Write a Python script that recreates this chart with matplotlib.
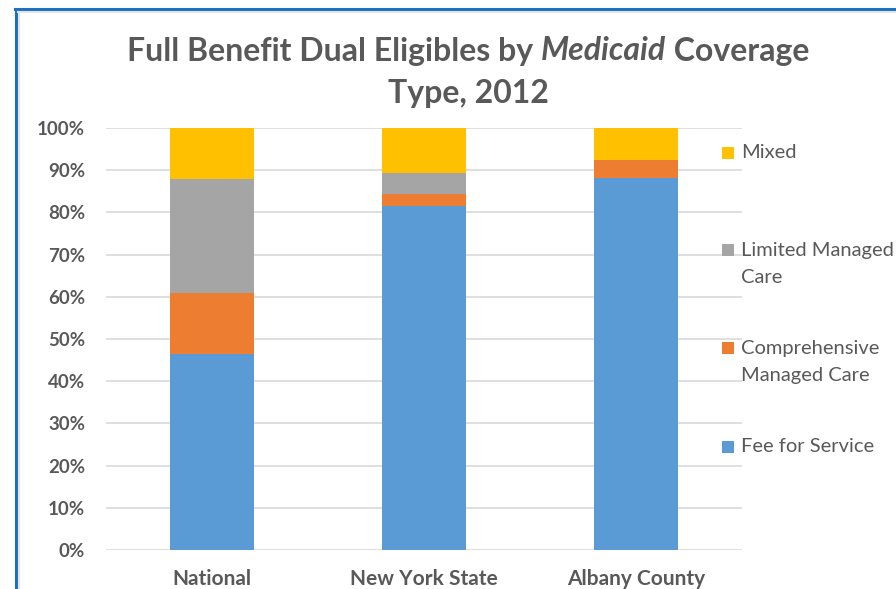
import matplotlib
matplotlib.use('Agg')
import matplotlib.pyplot as plt
import matplotlib.patches
import numpy as np


categories = ['National', 'New York State', 'Albany County']

fee_for_service = [46.4, 81.5, 88.2]
comprehensive_mc = [14.5, 2.9, 4.3]
limited_mc = [26.9, 4.9, 0.0]
mixed = [12.2, 10.7, 7.5]

series_names = ['Fee for Service', 'Comprehensive\nManaged Care',
                'Limited Managed\nCare', 'Mixed']
series_colors = ['#5B9BD5', '#ED7D31', '#A5A5A5', '#FFC000']

y_ticks = list(range(0, 101, 10))
tick_labels = ['%d%%' % t for t in y_ticks]

TEXT = '#595959'
FONT = 'Lato'


def main():

    W, H = 896, 589
    fig = plt.figure(figsize=(W / 100, H / 100), dpi=100)
    fig.patch.set_facecolor('white')

    # plot area in pixel coordinates
    left, right, top, bottom = 106, 742, 128, 550
    ax = fig.add_axes([left / W, 1 - bottom / H, (right - left) / W, (bottom - top) / H])

    x = np.arange(len(categories))
    stacks = [fee_for_service, comprehensive_mc, limited_mc, mixed]
    base = np.zeros(len(categories))
    for vals, color in zip(stacks, series_colors):
        ax.bar(x, vals, width=0.4, bottom=base, color=color, zorder=3,
               edgecolor='none')
        base += np.array(vals)

    ax.set_xlim(-0.5, len(categories) - 0.5)
    ax.set_ylim(0, 100)
    ax.set_yticks(y_ticks)
    ax.set_yticklabels(tick_labels)
    ax.set_xticks(x)
    ax.set_xticklabels(categories)
    ax.yaxis.grid(True, color='#D9D9D9', linewidth=1.2, zorder=0)
    ax.tick_params(length=0)
    ax.tick_params(axis='y', pad=15, labelsize=13.5)
    ax.tick_params(axis='x', pad=14, labelsize=15)
    for lab in ax.get_xticklabels() + ax.get_yticklabels():
        lab.set_family(FONT)
        lab.set_weight('bold')
        lab.set_color(TEXT)
    for sp in ax.spines.values():
        sp.set_visible(False)

    # title, with the italic word drawn as its own piece
    renderer = fig.canvas.get_renderer()
    parts = [('Full Benefit Dual Eligibles by ', 'normal'),
             ('Medicaid', 'italic'),
             (' Coverage', 'normal')]
    texts = []
    for s, style in parts:
        t = fig.text(0, 1 - 51 / H, s, fontsize=23, family=FONT,
                     weight='bold', style=style, color=TEXT, va='center')
        texts.append(t)
    widths = [t.get_window_extent(renderer).width for t in texts]
    xpos = 468 - sum(widths) / 2
    for t, w in zip(texts, widths):
        t.set_x(xpos / W)
        xpos += w
    fig.text(468 / W, 1 - 94 / H, 'Type, 2012', fontsize=23, family=FONT,
             weight='bold', color=TEXT, ha='center', va='center')

    # legend drawn by hand on the right
    legend_y = [447, 362, 264, 153]
    for name, color, ly in zip(series_names, series_colors, legend_y):
        first_line = ly if '\n' not in name else ly - 14
        fig.patches.append(matplotlib.patches.Rectangle(
            (722 / W, 1 - (first_line + 6) / H), 12 / W, 12 / H,
            transform=fig.transFigure, facecolor=color, edgecolor='none'))
        fig.text(741 / W, 1 - ly / H, name, fontsize=14.5, family=FONT,
                 color=TEXT, va='center', linespacing=1.75)

    # chart frame
    fig.add_artist(matplotlib.lines.Line2D([16 / W, 16 / W], [0, 1 - 9 / H],
                   transform=fig.transFigure, color='#1C6FC4', linewidth=2.2))
    fig.add_artist(matplotlib.lines.Line2D([15 / W, 1], [1 - 9 / H, 1 - 9 / H],
                   transform=fig.transFigure, color='#1C6FC4', linewidth=2.2))
    fig.add_artist(matplotlib.lines.Line2D([19 / W, 19 / W], [0, 1 - 12 / H],
                   transform=fig.transFigure, color='#E4E4E4', linewidth=1.5))
    fig.add_artist(matplotlib.lines.Line2D([18 / W, 1], [1 - 12 / H, 1 - 12 / H],
                   transform=fig.transFigure, color='#E4E4E4', linewidth=1.5))

    plt.savefig('out.png', dpi=100)


if __name__ == "__main__":
    main()
